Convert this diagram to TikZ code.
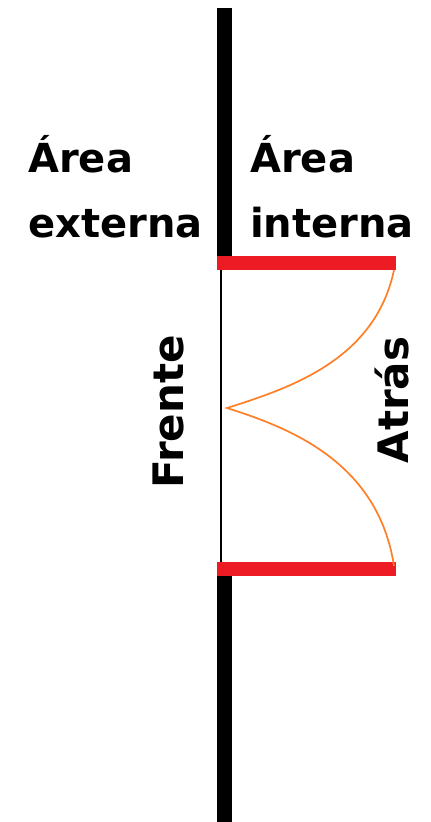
\documentclass[tikz,border=0pt]{standalone}
\usepackage{fontspec}
\setmainfont{DejaVu Sans}
\usepackage{tikz}
\definecolor{wallred}{HTML}{ED1C24}
\definecolor{doororange}{HTML}{FF7F27}

\begin{document}
\begin{tikzpicture}[
        x=1pt, y=-1pt,
        label/.style={font=\fontsize{40}{48}\selectfont\bfseries, inner sep=0pt},
        side/.style={font=\fontsize{42}{48}\selectfont\bfseries, inner sep=0pt, rotate=90, anchor=base},
        wall/.style={fill=black},
        frame/.style={fill=wallred},
        door/.style={doororange, line width=1.7pt}
    ]
        \useasboundingbox (0,0) rectangle (431,822);

        % wall with opening
        \fill[wall] (217,8) rectangle (232,262);
        \fill[wall] (217,573) rectangle (232,822);
        \draw[line width=2pt] (221,262) -- (221,568);

        % frame
        \fill[frame] (217,256) rectangle (396,270);
        \fill[frame] (217,562) rectangle (396,576);

        % door leaves
        \coordinate (top) at (394,270);
        \coordinate (tip) at (227,408);
        \coordinate (bot) at (394,566);
        \draw[door] (top) .. controls (375,360) and (290,388) .. (tip)
                          .. controls (290,428) and (378,462) .. (bot);

        % labels
        \node[label, anchor=base west] (ext) at (28,172) {Área};
        \node[label, anchor=base west] (ext2) at (28,237) {externa};
        \node[label, anchor=base west] (int) at (250,172) {Área};
        \node[label, anchor=base west] (int2) at (250,237) {interna};
        \node[side] (front) at (183,412) {Frente};
        \node[side] (back) at (408,400) {Atrás};
    \end{tikzpicture}
\end{document}
